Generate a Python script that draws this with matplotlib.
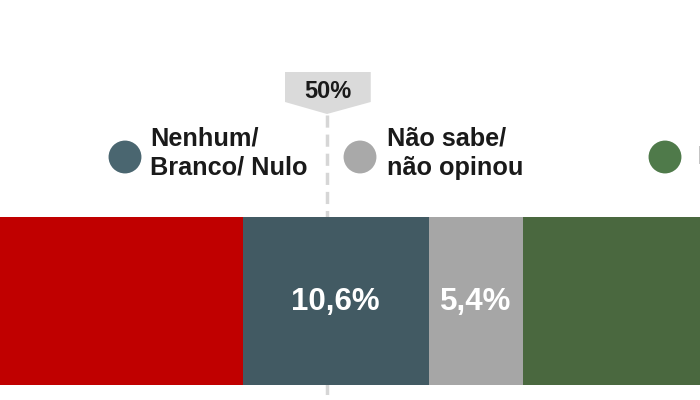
import matplotlib.pyplot as plt
from matplotlib.patches import Polygon

plt.rcParams['font.family'] = ['Liberation Sans', 'DejaVu Sans']

categories = ['Haddad', 'Nenhum/\nBranco/ Nulo', 'Não sabe/\nnão opinou', 'Bolsonaro']
values = [45.2, 10.6, 5.4, 38.8]
bar_colors = ['#c00000', '#425a63', '#a6a6a6', '#4a683f']
dot_colors = ['#c00000', '#4a6670', '#a9a9a9', '#4f7a4a']
labels = ['', '10,6%', '5,4%', '']

fig = plt.figure(figsize=(7, 4), dpi=100)
ax = fig.add_axes([0, 0, 1, 1])
# axis: x in percent (chart is cropped), y in pixel rows
x0 = 31.314
ppx = 17.5
ax.set_xlim(x0, x0 + 700 / ppx)
ax.set_ylim(400, 0)
ax.axis('off')

# dashed 50% line
ax.plot([50, 50], [115, 400], color='#d6d6d6', lw=2.5, ls=(0, (3.5, 2)), zorder=1)

# stacked bar
left = 0
for v, c, lab in zip(values, bar_colors, labels):
    ax.barh(301, v, left=left, height=168, color=c, edgecolor='none', zorder=2)
    if lab:
        ax.text(left + v / 2, 302, lab, color='white', fontsize=22.5, fontweight='bold',
                ha='center', va='center', zorder=3)
    left += v

# 50% badge
badge = Polygon([(47.6, 72), (52.5, 72), (52.5, 102), (50, 114), (47.6, 102)],
                closed=True, facecolor='#dadada', edgecolor='none', zorder=2)
ax.add_patch(badge)
ax.text(50.05, 92, '50%', fontsize=17, fontweight='bold', color='#1a1a1a',
        ha='center', va='center', zorder=3)

# legend (manual)
dot_x = [125, 360, 665]
text_x = [150, 387, 697]
text_y = [153, 153, 157]
for i in range(3):
    ax.scatter([x0 + dot_x[i] / ppx], [157], s=560, color=dot_colors[i + 1],
               edgecolors='none', zorder=3)
    ax.text(x0 + text_x[i] / ppx, text_y[i], categories[i + 1], fontsize=18.2,
            fontweight='bold', color='#1a1a1a', ha='left', va='center',
            linespacing=1.3, zorder=3)

fig.savefig('out.png', dpi=100)
